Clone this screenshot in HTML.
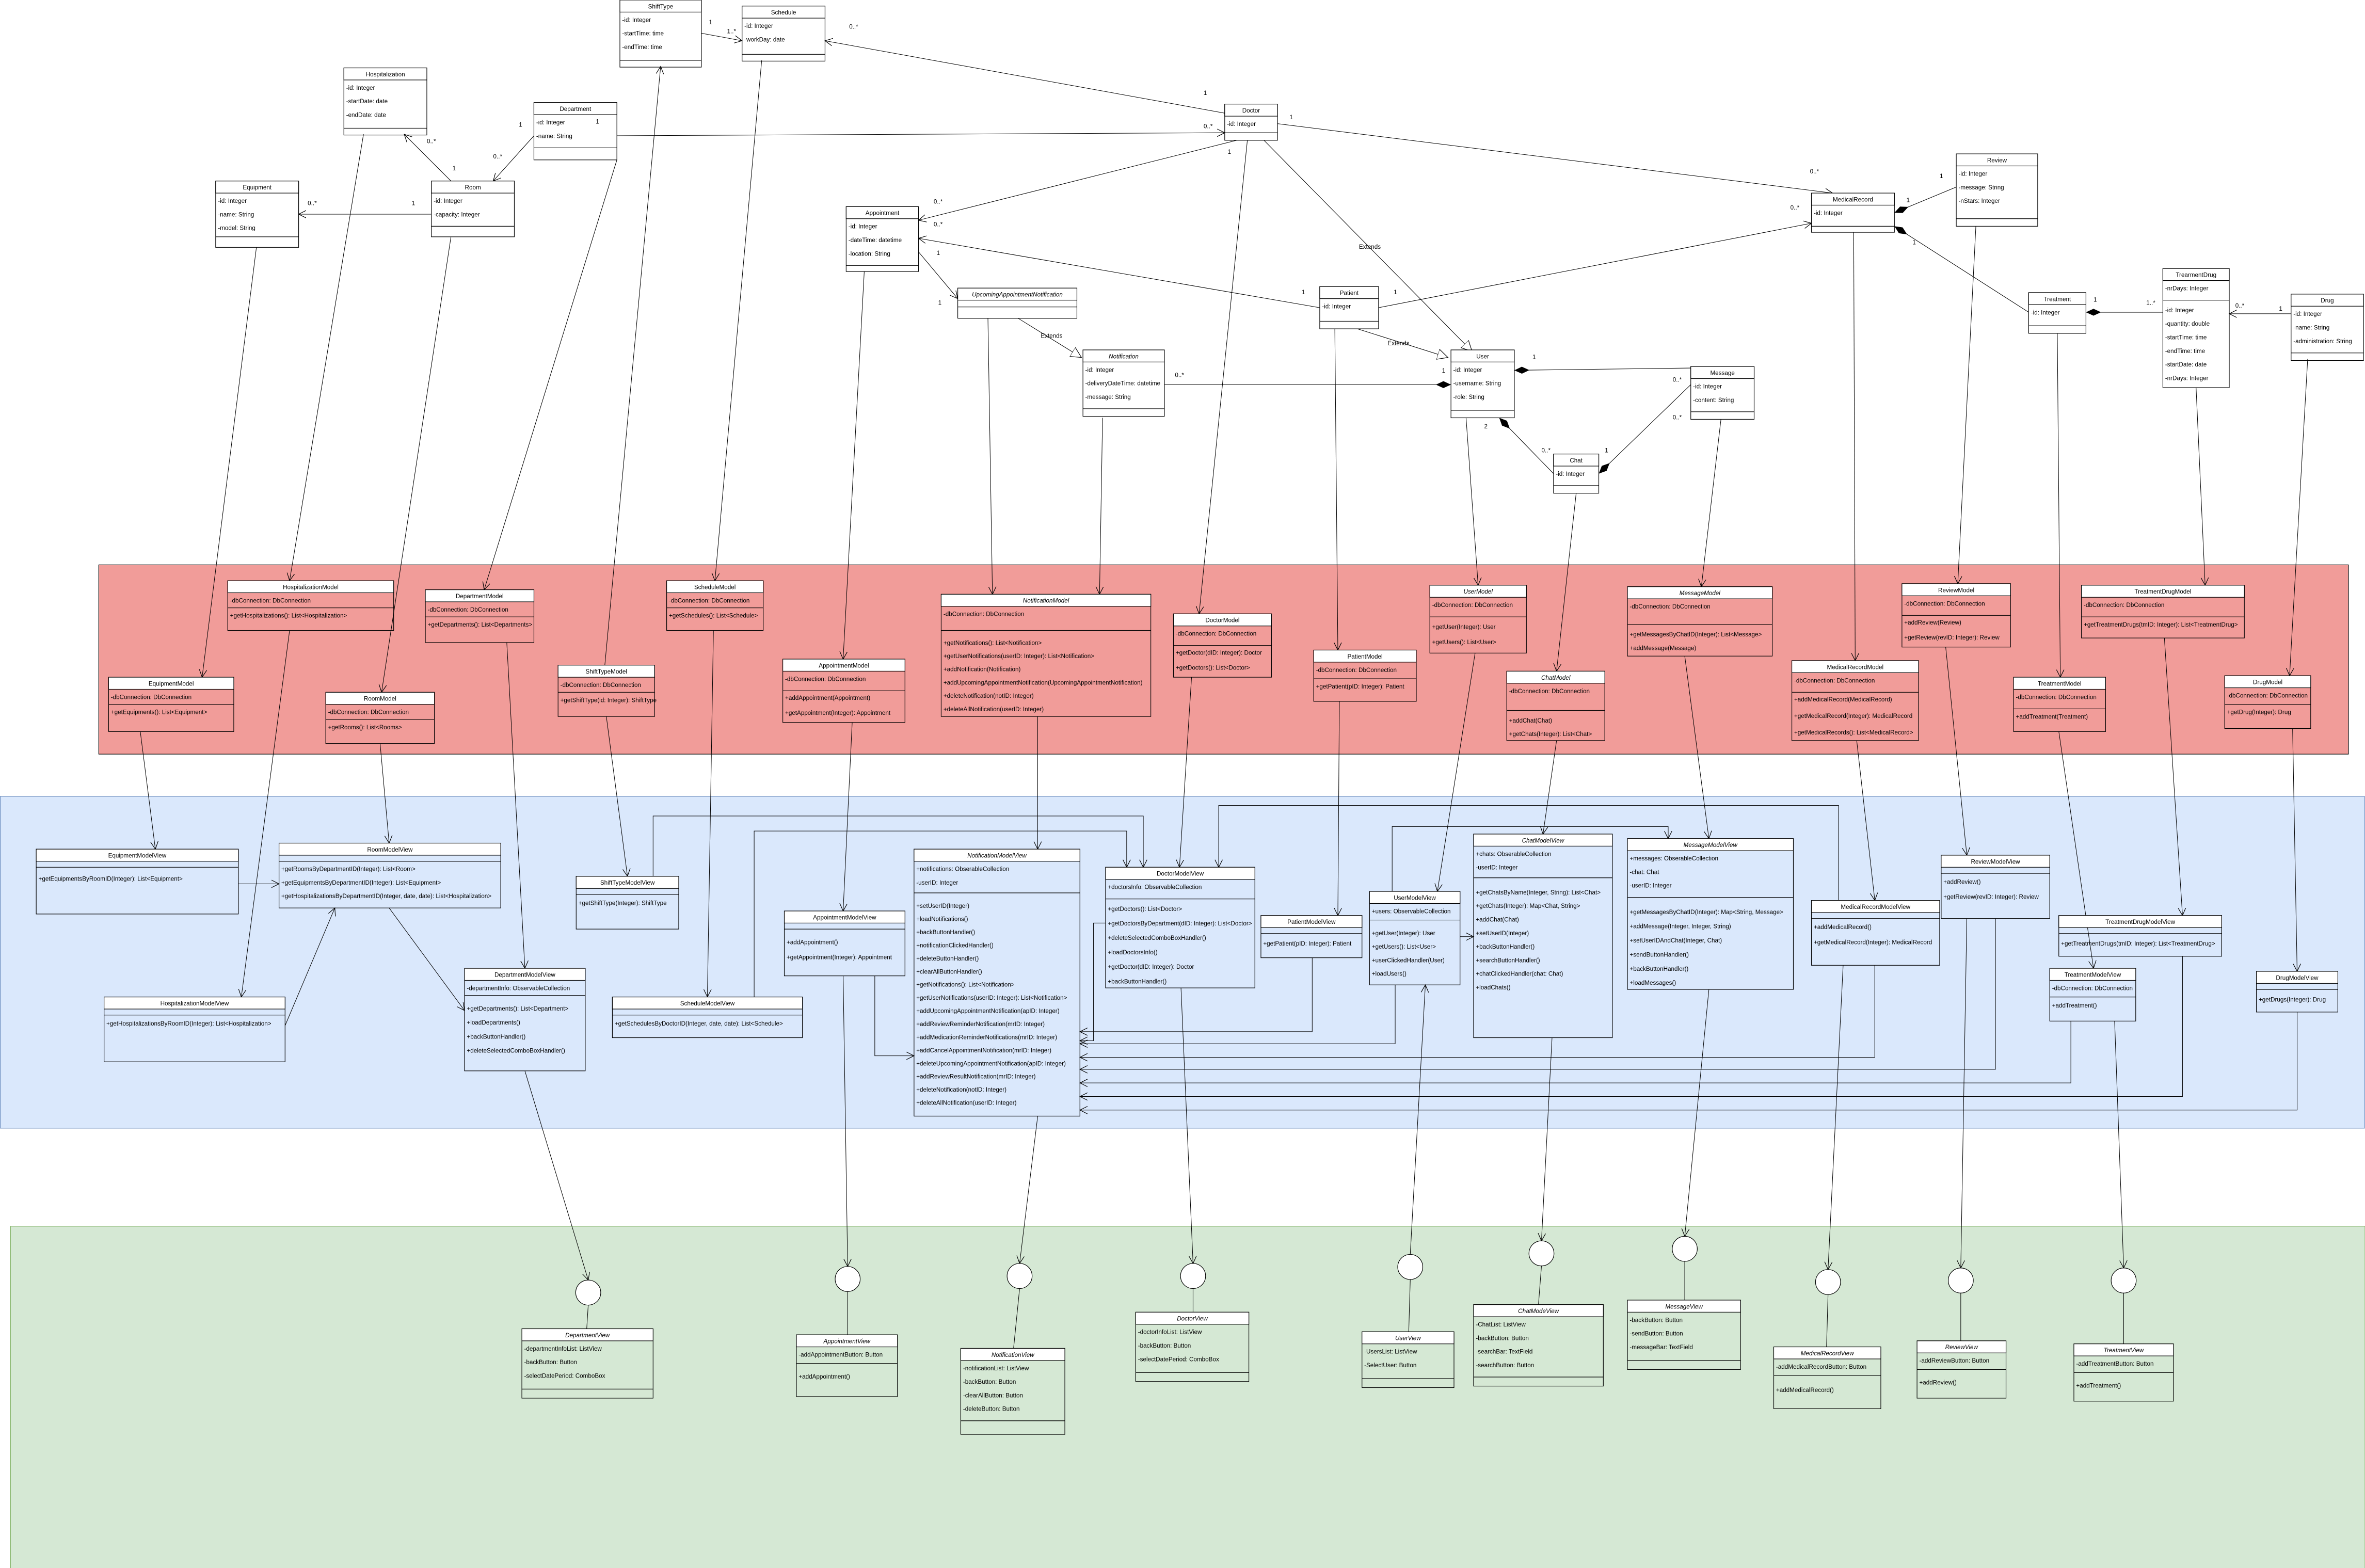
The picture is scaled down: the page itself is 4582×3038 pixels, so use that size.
<!DOCTYPE html>
<html><head><meta charset="utf-8"><style>
html,body{margin:0;padding:0;background:#fff}
svg{display:block}
text{font-family:"Liberation Sans",Arial,sans-serif;font-size:4px;fill:#000}
</style></head><body>
<svg id="s" xmlns="http://www.w3.org/2000/svg" width="4582" height="3038" viewBox="0 0 1568 1039.6">
<defs>
<marker id="a" markerUnits="userSpaceOnUse" markerWidth="6" markerHeight="6" refX="5" refY="3" orient="auto"><path d="M0,0.5 L5,3 L0,5.5" fill="none" stroke="#000" stroke-width="0.4"/></marker>
<marker id="t" markerUnits="userSpaceOnUse" markerWidth="8" markerHeight="8" refX="7" refY="4" orient="auto"><path d="M0,0.5 L7,4 L0,7.5 Z" fill="#fff" stroke="#000" stroke-width="0.4"/></marker>
<marker id="d" markerUnits="userSpaceOnUse" markerWidth="12" markerHeight="6" refX="0.5" refY="3" orient="auto"><path d="M0.5,3 L5.5,0.7 L10.5,3 L5.5,5.3 Z" fill="#000"/></marker>
</defs>
<rect x="0" y="0" width="1568" height="1040" fill="#fff"/>
<rect x="65.5" y="374.5" width="1491.5" height="125.5" fill="#f19c99" stroke="#000" stroke-width="0.4"/>
<rect x="0.2" y="528" width="1567.5" height="220" fill="#dae8fc" stroke="#6c8ebf" stroke-width="0.4"/>
<rect x="7" y="813" width="1561" height="227" fill="#d5e8d4" stroke="#82b366" stroke-width="0.4"/>
<g id="edges"></g>
<g id="boxes"></g>
</svg>
<script>
var NS="http://www.w3.org/2000/svg";
var B=document.getElementById('boxes'),E=document.getElementById('edges');
function el(p,t,a,txt){var e=document.createElementNS(NS,t);for(var k in a)e.setAttribute(k,a[k]);if(txt!=null)e.textContent=txt;p.appendChild(e);return e;}
function tx(p,x,y,s,o){o=o||{};var a={x:x,y:y};if(o.mid)a['text-anchor']='middle';if(o.it)a['font-style']='italic';return el(p,'text',a,s);}
function cls(x,y,w,title,attrs,meths,o){o=o||{};
 var hf=o.hf||'#fff',bf=o.bf||'none';
 var ah=o.ah||Math.max(attrs.length*9+4,4.5);
 var mh=o.mh||Math.max(meths.length*9+4,4.5);
 var h=8+ah+mh;
 el(B,'rect',{x:x,y:y,width:w,height:h,fill:bf,stroke:'#000','stroke-width':0.4});
 el(B,'rect',{x:x,y:y,width:w,height:8,fill:hf,stroke:'#000','stroke-width':0.4});
 tx(B,x+w/2,y+5.6,title,{mid:1,it:o.it});
 el(B,'line',{x1:x,y1:y+8+ah,x2:x+w,y2:y+8+ah,stroke:'#000','stroke-width':0.4});
 var mp=o.mp||6.5;
 attrs.forEach(function(s,i){tx(B,x+1.5,y+8+6.5+9*i,s);});
 meths.forEach(function(s,i){tx(B,x+1.5,y+8+ah+mp+(o.ms||9)*i,s);});
}
function ln(pts,m,st){var d='M'+pts.map(function(p){return p.join(',')}).join(' L');var a={d:d,fill:'none',stroke:'#000','stroke-width':0.35};if(m)a['marker-end']='url(#'+m+')';if(st)a['marker-start']='url(#'+st+')';el(E,'path',a);}
function lb(x,y,s){tx(B,x,y,s);}
function circ(x,y){el(B,'circle',{cx:x,cy:y,r:8.3,fill:'#fff',stroke:'#000','stroke-width':0.4});}

cls(411,0,54,'ShiftType',['-id: Integer','-startTime: time','-endTime: time'],[],{ah:32});
cls(492,4,55,'Schedule',['-id: Integer','-workDay: date'],[],{ah:24});
cls(228,45,55,'Hospitalization',['-id: Integer','-startDate: date','-endDate: date'],[],{ah:32});
cls(354,68,55,'Department',['-id: Integer','-name: String'],[],{ah:22,mh:8});
cls(143,120,55,'Equipment',['-id: Integer','-name: String','-model: String'],[],{ah:29,mh:7});
cls(286,120,55,'Room',['-id: Integer','-capacity: Integer'],[],{ah:22,mh:7});
cls(812,69,35,'Doctor',['-id: Integer'],[],{ah:11,mh:5});
cls(561,137,48,'Appointment',['-id: Integer','-dateTime: datetime','-location: String'],[],{ah:31,mh:4});
cls(635,191,79,'UpcomingAppointmentNotification',[],[],{ah:4.5,mh:7.5,it:1});
cls(718,232,54,'Notification',['-id: Integer','-deliveryDateTime: datetime','-message: String'],[],{ah:31,mh:5,it:1});
cls(875,190,39,'Patient',['-id: Integer'],[],{ah:15,mh:5});
cls(962,232,42,'User',['-id: Integer','-username: String','-role: String'],[],{ah:32,mh:5});
cls(1121,243,42,'Message',['-id: Integer','-content: String'],[],{ah:22,mh:5});
cls(1030,301,30,'Chat',['-id: Integer'],[],{ah:13,mh:5});
cls(1297,102,54,'Review',['-id: Integer','-message: String','-nStars: Integer'],[],{ah:35,mh:5});
cls(1201,128,55,'MedicalRecord',['-id: Integer'],[],{ah:14,mh:4});
cls(1434,178,44,'TrearmentDrug',['-nrDays: Integer'],['-id: Integer','-quantity: double','-startTime: time','-endTime: time','-startDate: date','-nrDays: Integer'],{ah:13,mh:58,mp:8});
cls(1345,194,38,'Treatment',['-id: Integer'],[],{ah:14,mh:5});
cls(1519,195,48,'Drug',['-id: Integer','-name: String','-administration: String'],[],{ah:31,mh:5});

function M(x,y,w,t,a,m,o){o=o||{};cls(x,y,w,t,a,m,o);}
M(151,385,110,'HospitalizationModel',['-dbConnection: DbConnection'],['+getHospitalizations(): List<Hospitalization>'],{ah:10,mh:15});
M(282,391,72,'DepartmentModel',['-dbConnection: DbConnection'],['+getDepartments(): List<Departments>'],{ah:10,mh:17});
M(442,385,64,'ScheduleModel',['-dbConnection: DbConnection'],['+getSchedules(): List<Schedule>'],{ah:10,mh:15});
M(72,449,83,'EquipmentModel',['-dbConnection: DbConnection'],['+getEquipments(): List<Equipment>'],{ah:10,mh:18});
M(216,459,72,'RoomModel',['-dbConnection: DbConnection'],['+getRooms(): List<Rooms>'],{ah:10,mh:16});
M(370,441,64,'ShiftTypeModel',['-dbConnection: DbConnection'],['+getShiftType(id: Integer): ShiftType'],{ah:10,mh:16});
M(519,437,81,'AppointmentModel',['-dbConnection: DbConnection'],['+addAppointment(Appointment)','+getAppointment(Integer): Appointment'],{ah:13,mh:21,mp:6,ms:10});
M(624,394,139,'NotificationModel',['-dbConnection: DbConnection'],['+getNotifications(): List<Notification>','+getUserNotifications(userID: Integer): List<Notification>','+addNotification(Notification)','+addUpcomingAppointmentNotification(UpcomingAppointmentNotification)','+deleteNotification(notID: Integer)','+deleteAllNotification(userID: Integer)'],{it:1,ah:16,mh:57,mp:9.5,ms:8.8});
M(778,407,65,'DoctorModel',['-dbConnection: DbConnection'],['+getDoctor(dID: Integer): Doctor','+getDoctors(): List<Doctor>'],{ah:13,mh:21,mp:6,ms:10});
M(871,431,68,'PatientModel',['-dbConnection: DbConnection'],['+getPatient(pID: Integer): Patient'],{ah:11,mh:15});
M(948,388,64,'UserModel',['-dbConnection: DbConnection'],['+getUser(Integer): User','+getUsers(): List<User>'],{it:1,ah:13,mh:24,mp:8,ms:10});
M(999,445,65,'ChatModel',['-dbConnection: DbConnection'],['+addChat(Chat)','+getChats(Integer): List<Chat>'],{it:1,ah:18,mh:20,mp:8,ms:9});
M(1079,389,96,'MessageModel',['-dbConnection: DbConnection'],['+getMessagesByChatID(Integer): List<Message>','+addMessage(Message)'],{it:1,ah:17,mh:21,mp:8,ms:9});
M(1188,438,84,'MedicalRecordModel',['-dbConnection: DbConnection'],['+addMedicalRecord(MedicalRecord)','+getMedicalRecord(Integer): MedicalRecord','+getMedicalRecords(): List<MedicalRecord>'],{ah:13,mh:32,mp:6,ms:11});
M(1261,387,72,'ReviewModel',['-dbConnection: DbConnection'],['+addReview(Review)','+getReview(revID: Integer): Review'],{ah:13,mh:21,mp:6,ms:10});
M(1335,449,61,'TreatmentModel',['-dbConnection: DbConnection'],['+addTreatment(Treatment)'],{ah:13,mh:15});
M(1380,388,108,'TreatmentDrugModel',['-dbConnection: DbConnection'],['+getTreatmentDrugs(tmID: Integer): List<TreatmentDrug>'],{ah:13,mh:14});
M(1475,448,57,'DrugModel',['-dbConnection: DbConnection'],['+getDrug(Integer): Drug'],{ah:11,mh:16});

cls(24,563,134,'EquipmentModelView',[],['+getEquipmentsByRoomID(Integer): List<Equipment>'],{ah:4,mh:31,mp:9});
cls(185,559,147,'RoomModelView',[],['+getRoomsByDepartmentID(Integer): List<Room>','+getEquipmentsByDepartmentID(Integer): List<Equipment>','+getHospitalizationsByDepartmentID(Integer, date, date): List<Hospitalization>'],{ah:4,mh:31,mp:6.5});
cls(69,661,120,'HospitalizationModelView',[],['+getHospitalizationsByRoomID(Integer): List<Hospitalization>'],{ah:4,mh:31,mp:7});
cls(382,581,68,'ShiftTypeModelView',[],['+getShiftType(Integer): ShiftType'],{ah:4,mh:23,mp:7});
cls(308,642,80,'DepartmentModelView',['-departmentInfo: ObservableCollection'],['+getDepartments(): List<Department>','+loadDepartments()','+backButtonHandler()','+deleteSelectedComboBoxHandler()'],{ah:10,mh:50,mp:10,ms:9.3});
cls(406,661,126,'ScheduleModelView',[],['+getSchedulesByDoctorID(Integer, date, date): List<Schedule>'],{ah:4,mh:15,mp:7});
cls(520,604,80,'AppointmentModelView',[],['+addAppointment()','+getAppointment(Integer): Appointment'],{ah:4,mh:31,mp:10,ms:10});
cls(606,563,110,'NotificationModelView',['+notifications: ObserableCollection','-userID: Integer'],['+setUserID(Integer)','+loadNotifications()','+backButtonHandler()','+notificationClickedHandler()','+deleteButtonHandler()','+clearAllButtonHandler()','+getNotifications(): List<Notification>','+getUserNotifications(userID: Integer): List<Notification>','+addUpcomingAppointmentNotification(apID: Integer)','+addReviewReminderNotification(mrID: Integer)','+addMedicationReminderNotifications(mrID: Integer)','+addCancelAppointmentNotification(mrID: Integer)','+deleteUpcomingAppointmentNotification(apID: Integer)','+addReviewResultNotification(mrID: Integer)','+deleteNotification(notID: Integer)','+deleteAllNotification(userID: Integer)'],{it:1,ah:21,mh:148,mp:10,ms:8.7});
cls(733,575,99,'DoctorModelView',['+doctorsInfo: ObservableCollection'],['+getDoctors(): List<Doctor>','+getDoctorsByDepartment(dID: Integer): List<Doctor>','+deleteSelectedComboBoxHandler()','+loadDoctorsInfo()','+getDoctor(dID: Integer): Doctor','+backButtonHandler()'],{ah:13,mh:59,mp:8,ms:9.6});
cls(836,607,67,'PatientModelView',[],['+getPatient(pID: Integer): Patient'],{ah:4,mh:16,mp:8});
cls(908,591,60,'UserModelView',['+users: ObservableCollection'],['+getUser(Integer): User','+getUsers(): List<User>','+userClickedHandler(User)','+loadUsers()'],{ah:11,mh:43,mp:10,ms:9});
cls(977,553,92,'ChatModelView',['+chats: ObserableCollection','-userID: Integer'],['+getChatsByName(Integer, String): List<Chat>','+getChats(Integer): Map<Chat, String>','+addChat(Chat)','+setUserID(Integer)','+backButtonHandler()','+searchButtonHandler()','+chatClickedHandler(chat: Chat)','+loadChats()'],{it:1,ah:21,mh:106,mp:11,ms:9});
cls(1079,556,110,'MessageModelView',['+messages: ObserableCollection','-chat: Chat','-userID: Integer'],['+getMessagesByChatID(Integer): Map<String, Message>','+addMessage(Integer, Integer, String)','+setUserIDAndChat(Integer, Chat)','+sendButtonHandler()','+backButtonHandler()','+loadMessages()'],{it:1,ah:31,mh:61,mp:11,ms:9.4});
cls(1201,597,85,'MedicalRecordModelView',[],['+addMedicalRecord()','+getMedicalRecord(Integer): MedicalRecord'],{ah:4,mh:31,mp:7,ms:10});
cls(1287,567,72,'ReviewModelView',[],['+addReview()','+getReview(revID: Integer): Review'],{ah:4,mh:30,mp:7,ms:10});
cls(1365,607,108,'TreatmentDrugModelView',[],['+getTreatmentDrugs(tmID: Integer): List<TreatmentDrug>'],{ah:4,mh:15,mp:8});
cls(1359,642,57,'TreatmentModelView',['-dbConnection: DbConnection'],['+addTreatment()'],{ah:11,mh:16,mp:7});
cls(1496,644,54,'DrugModelView',[],['+getDrugs(Integer): Drug'],{ah:4,mh:15,mp:8});

cls(346,881,87,'DepartmentView',['-departmentInfoList: ListView','-backButton: Button','-selectDatePeriod: ComboBox'],[],{it:1,ah:32,mh:6});
cls(528,885,67,'AppointmentView',['-addAppointmentButton: Button'],['+addAppointment()'],{it:1,ah:11,mh:22,mp:10});
cls(637,894,69,'NotificationView',['-notificationList: ListView','-backButton: Button','-clearAllButton: Button','-deleteButton: Button'],[],{it:1,ah:40,mh:9});
cls(753,870,75,'DoctorView',['-doctorInfoList: ListView','-backButton: Button','-selectDatePeriod: ComboBox'],[],{it:1,ah:32,mh:6});
cls(903,883,61,'UserView',['-UsersList: ListView','-SelectUser: Button'],[],{it:1,ah:23,mh:6});
cls(977,865,86,'ChatModeView',['-ChatList: ListView','-backButton: Button','-searchBar: TextField','-searchButton: Button'],[],{it:1,ah:40,mh:6});
cls(1079,862,75,'MessageView',['-backButton: Button','-sendButton: Button','-messageBar: TextField'],[],{it:1,ah:32,mh:6});
cls(1176,893,71,'MedicalRecordView',['-addMedicalRecordButton: Button'],['+addMedicalRecord()'],{it:1,ah:11,mh:22,mp:11});
cls(1271,889,59,'ReviewView',['-addReviewButton: Button'],['+addReview()'],{it:1,ah:11,mh:19,mp:10});
cls(1375,891,66,'TreatmentView',['-addTreatmentButton: Button'],['+addTreatment()'],{it:1,ah:11,mh:19,mp:10});

var C=[[390,857,389,881,348,710],[562,848,562,885,559,647],[676,846,672,894,688,740],[791,846,791,870,783,655],[935,840,934,883,945,653],[1022,831,1020,865,1029,688],[1117,828,1117,862,1133,656],[1212,850,1211,893,1222,640],[1300,849,1300,889,1304,609],[1408,849,1408,891,1402,677]];
C.forEach(function(c){ln([[c[0],c[1]+8.3],[c[2],c[3]]]);
 if(c[0]==935) ln([[c[0],c[1]-8.3],[c[4],c[5]]],'a'); else ln([[c[4],c[5]],[c[0],c[1]-8.3]],'a');
 circ(c[0],c[1]);});

[[241,89,192,385],[170,164,134,449],[299,157,253,459],[409,106,321,391],[505,40,474,385],[573,180,559,437],[655,211,658,394],[731,277,729,394],[827,93,795,407],[885,218,887,431],[972,277,980,388],[1045,327,1032,445],[1141,278,1128,389],[1229,154,1230,438],[1310,150,1298,387],[1364,221,1366,449],[1456,257,1462,388],[1530,238,1518,448],[401,441,438,44]].forEach(function(l){ln([[l[0],l[1]],[l[2],l[3]]],'a');});

function comp(x1,y1,x2,y2){el(E,'path',{d:'M'+x2+','+y2+' L'+x1+','+y1,fill:'none',stroke:'#000','stroke-width':0.35,'marker-start':'url(#d)'});}
ln([[465,22],[492,27]],'a');lb(470,16,'1');lb(482,22,'1..*');
ln([[812,75],[547,27]],'a');lb(563,19,'0..*');lb(798,63,'1');
ln([[409,90],[812,88]],'a');lb(395,82,'1');lb(798,85,'0..*');
ln([[299,120],[268,89]],'a');lb(283,95,'0..*');lb(300,113,'1');
ln([[354,90],[327,120]],'a');lb(344,84,'1');lb(327,105,'0..*');
ln([[286,142],[198,142]],'a');lb(273,136,'1');lb(204,136,'0..*');
ln([[820,93],[609,146]],'a');lb(814,102,'1');lb(619,135,'0..*');
ln([[875,204],[609,158]],'a');lb(863,195,'1');lb(619,150,'0..*');
ln([[609,167],[635,198]],'a');lb(621,169,'1');lb(622,202,'1');
ln([[675,211],[717,237]],'t');lb(690,224,'Extends');
ln([[838,93],[976,233]],'t');lb(901,165,'Extends');
ln([[900,218],[960,237]],'t');lb(920,229,'Extends');
ln([[847,82],[1215,128]],'a');lb(855,79,'1');lb(1200,115,'0..*');
ln([[914,204],[1201,148]],'a');lb(924,195,'1');lb(1187,139,'0..*');
comp(772,255,962,255);lb(779,250,'0..*');lb(956,247,'1');
comp(1121,244,1004,245.5);lb(1016,238,'1');
comp(1030,314,994,277);lb(984,284,'2');lb(1022,300,'0..*');
comp(1121,255,1060,314);lb(1064,300,'1');lb(1109,253,'0..*');lb(1109,278,'0..*');
comp(1297,124,1256,141);lb(1286,118,'1');lb(1264,134,'1');
comp(1345,207,1256,150);lb(1268,162,'1');
comp(1434,207,1383,207);lb(1388,200,'1');lb(1423,202,'1..*');
ln([[1519,208],[1478,208]],'a');lb(1482,204,'0..*');lb(1511,206,'1');

[[93,485,103,563],[192,418,160,661],[252,493,258,559],[336,426,348,642],[402,475,416,581],[473,418,469,661],[565,479,559,604],[688,475,688,563],[790,449,782,575],[888,465,887,607],[978,433,953,591],[1032,491,1023,553],[1117,435,1133,556],[1231,491,1243,597],[1290,429,1304,567],[1365,485,1388,642],[1435,423,1447,607],[1520,483,1523,644]].forEach(function(l){ln([[l[0],l[1]],[l[2],l[3]]],'a');});
ln([[158,586],[185,586]],'a');
ln([[189,680],[222,602]],'a');
ln([[258,602],[308,670]],'a');
ln([[433,581],[433,541],[758,541],[758,575]],'a');
ln([[500,661],[500,551],[747,551],[747,575]],'a');
ln([[580,647],[580,700],[606,700]],'a');
ln([[733,612],[725,612],[725,690],[716,690]],'a');
ln([[870,635],[870,684],[716,684]],'a');
ln([[925,653],[925,692],[716,692]],'a');
ln([[1243,640],[1243,701],[716,701]],'a');
ln([[1323,609],[1323,709],[716,709]],'a');
ln([[1373,677],[1373,718],[716,718]],'a');
ln([[1447,634],[1447,727],[716,727]],'a');
ln([[1523,671],[1523,736],[716,736]],'a');
ln([[968,621],[977,621]],'a');
ln([[1219,597],[1219,534],[808,534],[808,575]],'a');
ln([[923,591],[923,548],[1106,548],[1106,556]],'a');
</script>
</body></html>
